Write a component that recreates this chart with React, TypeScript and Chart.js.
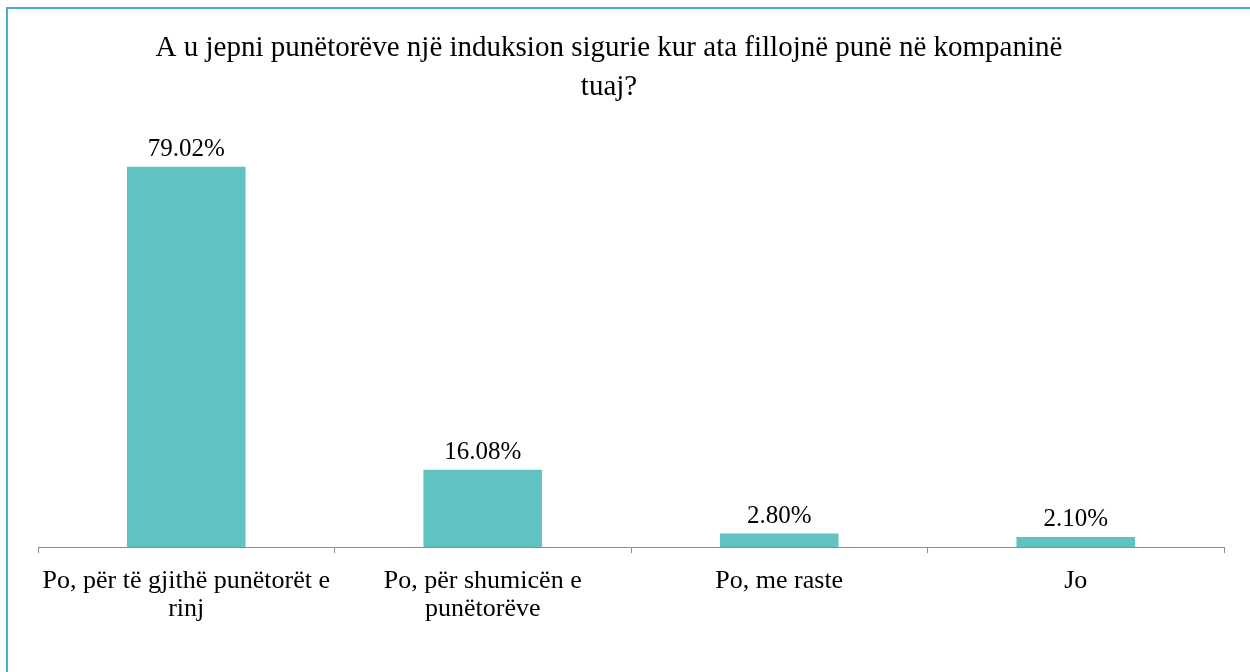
import React, { useEffect, useRef } from "react";
import { Chart, registerables } from "chart.js";

Chart.register(...registerables);

const categories: string[][] = [
  ["Po, për të gjithë punëtorët e", "rinj"],
  ["Po, për shumicën e", "punëtorëve"],
  ["Po, me raste"],
  ["Jo"],
];
const values: number[] = [79.02, 16.08, 2.8, 2.1];
const valueLabels: string[] = ["79.02%", "16.08%", "2.80%", "2.10%"];
const titleLines: string[] = [
  "A u jepni punëtorëve një induksion sigurie kur ata fillojnë punë në kompaninë",
  "tuaj?",
];

const FONT = "'Liberation Serif', 'Times New Roman', serif";

export default function App() {
  const ref = useRef<HTMLCanvasElement | null>(null);

  useEffect(() => {
    document.body.style.margin = "0";
    if (!ref.current) return;
    const labelPlugin = {
      id: "valueLabels",
      afterDatasetsDraw(chart: any) {
        const ctx = chart.ctx;
        const meta = chart.getDatasetMeta(0);
        ctx.save();
        ctx.font = `25px ${FONT}`;
        ctx.fillStyle = "#000";
        ctx.textAlign = "center";
        ctx.textBaseline = "middle";
        meta.data.forEach((bar: any, i: number) => {
          ctx.fillText(valueLabels[i], bar.x, bar.y - 17);
        });
        ctx.restore();
      },
    };
    const titlePlugin = {
      id: "customTitle",
      afterDraw(chart: any) {
        const ctx = chart.ctx;
        ctx.save();
        ctx.font = `29px ${FONT}`;
        ctx.fillStyle = "#000";
        ctx.textAlign = "center";
        ctx.textBaseline = "middle";
        ctx.fillText(titleLines[0], 609, 48);
        ctx.fillText(titleLines[1], 609, 87);
        ctx.restore();
      },
    };
    const chart = new Chart(ref.current, {
      type: "bar",
      data: {
        labels: categories,
        datasets: [
          {
            data: values,
            backgroundColor: "#60C2C1",
            borderWidth: 0,
            barPercentage: 0.4,
            categoryPercentage: 1,
          },
        ],
      },
      options: {
        animation: false,
        responsive: false,
        maintainAspectRatio: false,
        layout: { padding: { left: 38, right: 26, top: 114, bottom: 0 } },
        plugins: {
          legend: { display: false },
          title: { display: false },
          tooltip: { enabled: false },
        },
        scales: {
          y: { display: false, min: 0, max: 90 },
          x: {
            afterFit(scale: any) {
              scale.height = 125;
            },
            grid: {
              offset: true,
              drawOnChartArea: false,
              drawTicks: true,
              tickLength: 6,
              color: "#8c8c8c",
              lineWidth: 1,
            },
            border: { display: true, color: "#8c8c8c", width: 1 },
            ticks: {
              color: "#000",
              padding: 14,
              font: { family: FONT, size: 26, lineHeight: 1.08 },
              maxRotation: 0,
              autoSkip: false,
            },
          },
        },
      },
      plugins: [labelPlugin, titlePlugin],
    });
    return () => chart.destroy();
  }, []);

  return (
    <div style={{ position: "fixed", left: 0, top: 0, width: 1250, height: 672, background: "#fff", overflow: "hidden" }}>
      <div
        style={{
          position: "absolute",
          left: 6,
          top: 7,
          width: 1300,
          height: 700,
          borderTop: "2px solid #4BACC6",
          borderLeft: "2px solid #4BACC6",
        }}
      />
      <canvas ref={ref} width={1250} height={672} style={{ position: "absolute", left: 0, top: 0, width: 1250, height: 672 }} />
    </div>
  );
}
